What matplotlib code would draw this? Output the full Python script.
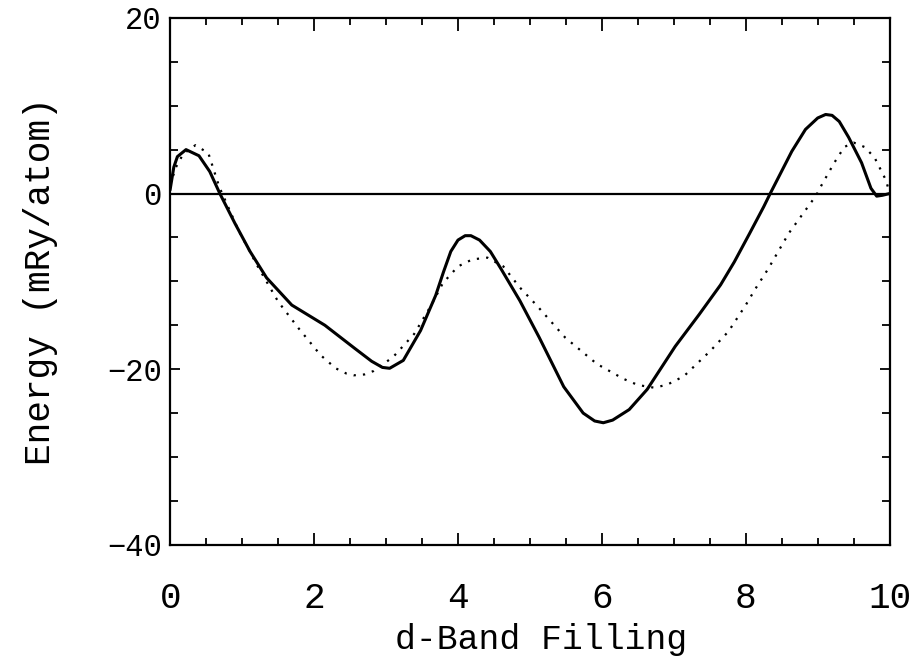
import matplotlib
matplotlib.use("Agg")
import matplotlib.pyplot as plt
from matplotlib.ticker import MultipleLocator

# Solid curve (d-band filling vs energy, mRy/atom)
solid_x = [0.0, 0.05, 0.1, 0.22, 0.4, 0.55, 0.69, 0.9, 1.11, 1.34, 1.69, 2.15, 2.56, 2.8, 2.95, 3.05,
           3.24, 3.48, 3.69, 3.8, 3.9, 4.0, 4.1, 4.18, 4.3, 4.45, 4.6, 4.86, 5.13, 5.47, 5.74, 5.9, 6.02,
           6.15, 6.38, 6.63, 7.02, 7.35, 7.65, 7.84, 8.05, 8.25, 8.34, 8.64, 8.83, 9.0, 9.11, 9.2, 9.3,
           9.43, 9.61, 9.74, 9.82, 9.9, 10.0]
solid_y = [0.5, 3.0, 4.2, 5.0, 4.3, 2.5, 0.0, -3.4, -6.6, -9.6, -12.7, -15.0, -17.6, -19.1, -19.8, -19.9,
           -19.0, -15.6, -11.6, -8.9, -6.6, -5.3, -4.8, -4.8, -5.3, -6.6, -8.6, -12.2, -16.4, -22.0, -25.0, -25.9, -26.1,
           -25.8, -24.6, -22.3, -17.4, -13.8, -10.4, -7.8, -4.6, -1.5, 0.0, 4.8, 7.3, 8.6, 9.0, 8.9, 8.2,
           6.4, 3.5, 0.6, -0.3, -0.2, 0.0]

# Dotted curve
dot_x = [0.0, 0.08, 0.18, 0.35, 0.53, 0.68, 0.95, 1.21, 1.5, 1.78, 2.09, 2.3, 2.45, 2.55, 2.7, 2.83,
         3.1, 3.39, 3.63, 3.79, 4.0, 4.2, 4.41, 4.63, 4.86, 5.09, 5.49, 5.93, 6.3, 6.5, 6.72, 6.9, 7.14,
         7.51, 7.76, 8.0, 8.13, 8.31, 8.6, 8.98, 9.05, 9.23, 9.37, 9.5, 9.65, 9.79, 9.95, 10.0]
dot_y = [1.0, 3.0, 4.5, 5.5, 4.6, 0.8, -4.2, -8.2, -12.3, -15.3, -18.4, -19.9, -20.5, -20.7, -20.6, -20.2,
         -18.6, -16.0, -12.7, -10.2, -8.3, -7.5, -7.3, -8.3, -10.7, -12.7, -16.4, -19.4, -21.1, -21.8, -22.1, -21.8, -20.8,
         -17.9, -15.7, -12.7, -10.9, -8.6, -4.5, -0.2, 0.9, 3.5, 5.3, 5.8, 5.3, 4.1, 1.5, 0.0]

x_ticks = [0, 2, 4, 6, 8, 10]
y_ticks = [-40, -20, 0, 20]

plt.rcParams['font.family'] = ['Liberation Mono', 'DejaVu Sans Mono']

fig = plt.figure(figsize=(9.2, 6.62), dpi=100)
ax = fig.add_axes([0.185, 0.177, 0.782, 0.796])

ax.plot(solid_x, solid_y, color='black', lw=2.2, solid_joinstyle='round')
ax.plot(dot_x, dot_y, color='black', lw=1.6, linestyle=(0, (1, 3.2)))
ax.axhline(0, color='black', lw=1.6)

ax.set_xlim(0, 10)
ax.set_ylim(-40, 20)
ax.set_xticks(x_ticks)
ax.set_yticks(y_ticks)
ax.xaxis.set_minor_locator(MultipleLocator(0.5))
ax.yaxis.set_minor_locator(MultipleLocator(5))

ax.tick_params(axis='both', which='both', direction='in', top=True, right=True,
               color='black', width=1.3)
ax.tick_params(axis='x', which='major', length=9, pad=26, labelsize=26)
ax.tick_params(axis='x', which='minor', length=5)
ax.tick_params(axis='y', which='major', length=7, pad=6, labelsize=22)
ax.tick_params(axis='y', which='minor', length=6)

for s in ax.spines.values():
    s.set_linewidth(1.6)

ax.set_xlabel('d-Band Filling', fontsize=25)
ax.xaxis.set_label_coords(0.515, -0.18)
ax.xaxis.label.set_verticalalignment('center')
ax.set_ylabel('Energy (mRy/atom)', fontsize=26)
ax.yaxis.set_label_coords(-0.18, 0.5)
ax.yaxis.label.set_verticalalignment('center')

fig.savefig('out.png', dpi=100)
